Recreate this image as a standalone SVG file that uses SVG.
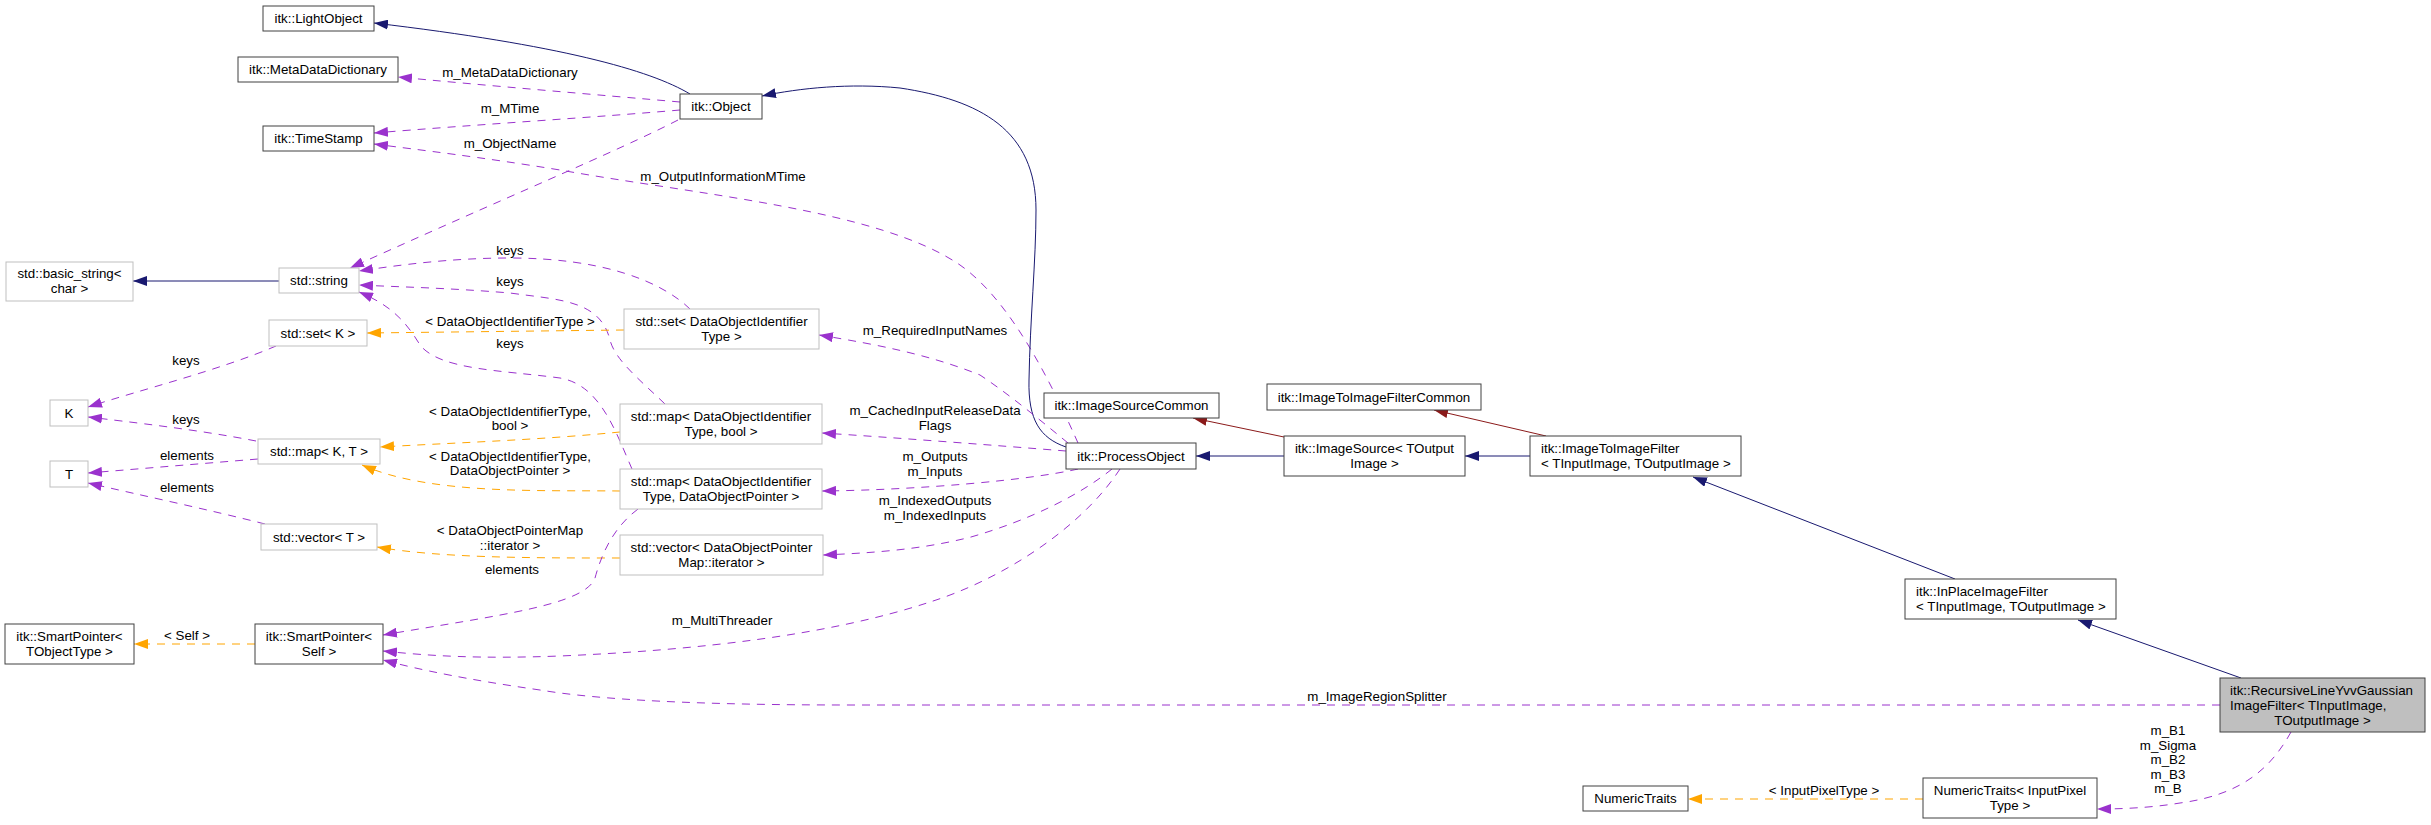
<svg xmlns="http://www.w3.org/2000/svg" width="2431" height="825" viewBox="0 0 2431 825">
<defs>
<style>
text{font-family:"Liberation Sans",Arial,Helvetica,sans-serif;font-size:13.33px;fill:#000}
.c{text-anchor:middle}
.n rect{fill:#fff;stroke:#404040;stroke-width:1}
.g rect{fill:#fff;stroke:#bfbfbf;stroke-width:1}
.f rect{fill:#bfbfbf;stroke:#404040;stroke-width:1}
#edges path{fill:none;stroke-width:1}
.inh{stroke:#191970;marker-end:url(#ab)}
.red{stroke:#8b1a1a;marker-end:url(#ar)}
.use{stroke:#9a32cd;stroke-dasharray:8,7;marker-end:url(#ap)}
.tpl{stroke:#ffa500;stroke-dasharray:8,7;marker-end:url(#ao)}
</style>
<marker id="ab" viewBox="0 0 14 10" refX="14" refY="5" markerWidth="14" markerHeight="10" markerUnits="userSpaceOnUse" orient="auto"><path d="M0,0L14,5L0,10z" fill="#191970"/></marker>
<marker id="ar" viewBox="0 0 14 10" refX="14" refY="5" markerWidth="14" markerHeight="10" markerUnits="userSpaceOnUse" orient="auto"><path d="M0,0L14,5L0,10z" fill="#8b1a1a"/></marker>
<marker id="ap" viewBox="0 0 14 10" refX="14" refY="5" markerWidth="14" markerHeight="10" markerUnits="userSpaceOnUse" orient="auto"><path d="M0,0L14,5L0,10z" fill="#9a32cd"/></marker>
<marker id="ao" viewBox="0 0 14 10" refX="14" refY="5" markerWidth="14" markerHeight="10" markerUnits="userSpaceOnUse" orient="auto"><path d="M0,0L14,5L0,10z" fill="#ffa500"/></marker>
</defs>
<rect x="0" y="0" width="2431" height="825" fill="#fff"/>

<g id="edges">
<path class="inh" d="M690,94 C650,70 560,45 374,23"/>
<path class="use" d="M680,102 C600,95 480,85 398,77"/>
<text class="c" x="510" y="76.5">m_MetaDataDictionary</text>
<path class="use" d="M680,110 C600,117 470,125 374,133"/>
<text class="c" x="510" y="112.5">m_MTime</text>
<path class="use" d="M678,120 C620,150 500,200 350,268"/>
<text class="c" x="510" y="147.5">m_ObjectName</text>
<path class="use" d="M1078,443 C1050,380 1010,300 960,265 C880,210 700,195 560,170 C480,157 420,150 374,144"/>
<text class="c" x="723" y="180.5">m_OutputInformationMTime</text>
<path class="inh" d="M279,281 L133,281"/>
<path class="use" d="M690,309 C660,280 600,258 510,258 C450,258 400,265 359,271"/>
<text class="c" x="510" y="255">keys</text>
<path class="use" d="M665,404 C640,380 615,360 610,340 C600,300 560,300 510,293 C450,288 400,287 359,285"/>
<text class="c" x="510" y="285.5">keys</text>
<path class="use" d="M632,469 C615,430 600,385 560,378 C500,370 440,370 420,345 C405,320 390,305 359,292"/>
<text class="c" x="510" y="347.5">keys</text>
<path class="tpl" d="M624,330 L367,333"/>
<text class="c" x="510" y="325.5">&lt; DataObjectIdentifierType &gt;</text>
<path class="use" d="M276,346 C220,370 140,390 88,407"/>
<text class="c" x="186" y="364.5">keys</text>
<path class="use" d="M256,441 C200,430 130,422 88,417"/>
<text class="c" x="186" y="423.5">keys</text>
<path class="use" d="M258,459 L88,473"/>
<text class="c" x="187" y="460">elements</text>
<path class="use" d="M265,524 C210,510 140,495 88,483"/>
<text class="c" x="187" y="492">elements</text>
<path class="tpl" d="M620,432 C540,440 450,443 380,447"/>
<text class="c" x="510" y="415.5">&lt; DataObjectIdentifierType,</text>
<text class="c" x="510" y="429.5">bool &gt;</text>
<path class="tpl" d="M620,491 C540,490 430,495 362,465"/>
<text class="c" x="510" y="461">&lt; DataObjectIdentifierType,</text>
<text class="c" x="510" y="475">DataObjectPointer &gt;</text>
<path class="tpl" d="M620,558 C530,558 440,558 377,547"/>
<text class="c" x="510" y="535">&lt; DataObjectPointerMap</text>
<text class="c" x="510" y="549.5">::iterator &gt;</text>
<path class="use" d="M638,509 C610,530 600,560 595,578 C585,605 500,615 383,635"/>
<text class="c" x="512" y="573.5">elements</text>
<path class="use" d="M1120,469 C1080,530 1000,580 930,602 C830,635 700,650 560,656 C480,659 430,656 383,651"/>
<text class="c" x="722" y="624.5">m_MultiThreader</text>
<path class="use" d="M2220,705 L850,705 C700,705 600,700 540,690 C470,680 420,670 383,660"/>
<text class="c" x="1377" y="701">m_ImageRegionSplitter</text>
<path class="inh" d="M1284,456 L1196,456"/>
<path class="inh" d="M1530,456 L1465,456"/>
<path class="red" d="M1284,437 L1193,418"/>
<path class="red" d="M1546,436 L1434,410"/>
<path class="inh" d="M1955,579 L1693,477"/>
<path class="inh" d="M2241,678 L2078,620"/>
<path class="inh" d="M1066,447 C1040,438 1028,420 1029,380 C1030,320 1036,260 1036,210 C1036,130 980,100 900,88 C850,83 800,88 762,96"/>
<path class="use" d="M1068,443 C1040,420 1010,395 980,375 C930,355 880,345 819,335"/>
<text class="c" x="935" y="335">m_RequiredInputNames</text>
<path class="use" d="M1066,451 C990,445 900,438 822,433"/>
<text class="c" x="935" y="415">m_CachedInputReleaseData</text>
<text class="c" x="935" y="429.5">Flags</text>
<path class="use" d="M1078,469 C1030,480 920,490 822,491"/>
<text class="c" x="935" y="461">m_Outputs</text>
<text class="c" x="935" y="476">m_Inputs</text>
<path class="use" d="M1112,469 C1080,495 1030,520 971,537 C920,550 870,553 823,555"/>
<text class="c" x="935" y="505">m_IndexedOutputs</text>
<text class="c" x="935" y="520">m_IndexedInputs</text>
<path class="use" d="M2291,732 C2270,770 2240,795 2180,803 C2150,808 2120,809 2097,809"/>
<text class="c" x="2168" y="735">m_B1</text>
<text class="c" x="2168" y="749.6">m_Sigma</text>
<text class="c" x="2168" y="764.2">m_B2</text>
<text class="c" x="2168" y="778.8">m_B3</text>
<text class="c" x="2168" y="793.4">m_B</text>
<path class="tpl" d="M1923,799 L1688,799"/>
<text class="c" x="1824" y="795">&lt; InputPixelType &gt;</text>
<path class="tpl" d="M255,644 L134,644"/>
<text class="c" x="187" y="639.5">&lt; Self &gt;</text>
</g>

<g id="n_lightobject" class="n"><rect x="263" y="6" width="111" height="25"/><text class="c" x="318.5" y="23">itk::LightObject</text></g>
<g id="n_metadatadictionary" class="n"><rect x="238" y="57" width="160" height="25"/><text class="c" x="318" y="74">itk::MetaDataDictionary</text></g>
<g id="n_timestamp" class="n"><rect x="263" y="126" width="111" height="25"/><text class="c" x="318.5" y="143">itk::TimeStamp</text></g>
<g id="n_object" class="n"><rect x="680" y="94" width="82" height="25"/><text class="c" x="721" y="111">itk::Object</text></g>
<g id="n_basic_string" class="g"><rect x="6" y="262" width="127" height="39"/><text class="c" x="69.5" y="278">std::basic_string&lt;</text><text class="c" x="69.5" y="293">char &gt;</text></g>
<g id="n_string" class="g"><rect x="279" y="268" width="80" height="25"/><text class="c" x="319" y="285">std::string</text></g>
<g id="n_setK" class="g"><rect x="269" y="320" width="98" height="26"/><text class="c" x="318" y="337.5">std::set&lt; K &gt;</text></g>
<g id="n_setDOI" class="g"><rect x="624" y="309" width="195" height="40"/><text class="c" x="721.5" y="326">std::set&lt; DataObjectIdentifier</text><text class="c" x="721.5" y="341">Type &gt;</text></g>
<g id="n_K" class="g"><rect x="50" y="400" width="38" height="26"/><text class="c" x="69" y="417.5">K</text></g>
<g id="n_mapKT" class="g"><rect x="258" y="439" width="122" height="25"/><text class="c" x="319" y="456">std::map&lt; K, T &gt;</text></g>
<g id="n_T" class="g"><rect x="50" y="461" width="38" height="26"/><text class="c" x="69" y="478.5">T</text></g>
<g id="n_mapBool" class="g"><rect x="620" y="404" width="202" height="40"/><text class="c" x="721" y="421">std::map&lt; DataObjectIdentifier</text><text class="c" x="721" y="436">Type, bool &gt;</text></g>
<g id="n_mapDOP" class="g"><rect x="620" y="469" width="202" height="40"/><text class="c" x="721" y="486">std::map&lt; DataObjectIdentifier</text><text class="c" x="721" y="501">Type, DataObjectPointer &gt;</text></g>
<g id="n_vecDOP" class="g"><rect x="620" y="535" width="203" height="40"/><text class="c" x="721.5" y="552">std::vector&lt; DataObjectPointer</text><text class="c" x="721.5" y="567">Map::iterator &gt;</text></g>
<g id="n_vecT" class="g"><rect x="261" y="524" width="116" height="26"/><text class="c" x="319" y="541.5">std::vector&lt; T &gt;</text></g>
<g id="n_spTObject" class="n"><rect x="5" y="624" width="129" height="40"/><text class="c" x="69.5" y="641">itk::SmartPointer&lt;</text><text class="c" x="69.5" y="656">TObjectType &gt;</text></g>
<g id="n_spSelf" class="n"><rect x="255" y="624" width="128" height="40"/><text class="c" x="319" y="641">itk::SmartPointer&lt;</text><text class="c" x="319" y="656">Self &gt;</text></g>
<g id="n_processobject" class="n"><rect x="1066" y="443" width="130" height="26"/><text class="c" x="1131" y="460.5">itk::ProcessObject</text></g>
<g id="n_imagesourcecommon" class="n"><rect x="1044" y="393" width="175" height="25"/><text class="c" x="1131.5" y="410">itk::ImageSourceCommon</text></g>
<g id="n_imagesource" class="n"><rect x="1284" y="436" width="181" height="40"/><text class="c" x="1374.5" y="453">itk::ImageSource&lt; TOutput</text><text class="c" x="1374.5" y="468">Image &gt;</text></g>
<g id="n_imagetoimagefiltercommon" class="n"><rect x="1267" y="384" width="214" height="26"/><text class="c" x="1374" y="401.5">itk::ImageToImageFilterCommon</text></g>
<g id="n_imagetoimagefilter" class="n"><rect x="1530" y="436" width="211" height="40"/><text x="1541" y="453">itk::ImageToImageFilter</text><text x="1541" y="468">&lt; TInputImage, TOutputImage &gt;</text></g>
<g id="n_inplaceimagefilter" class="n"><rect x="1905" y="579" width="211" height="40"/><text x="1916" y="596">itk::InPlaceImageFilter</text><text x="1916" y="611">&lt; TInputImage, TOutputImage &gt;</text></g>
<g id="n_recursive" class="f"><rect x="2220" y="678" width="205" height="54"/><text x="2230" y="694.5">itk::RecursiveLineYvvGaussian</text><text x="2230" y="709.5">ImageFilter&lt; TInputImage,</text><text class="c" x="2322.5" y="724.5">TOutputImage &gt;</text></g>
<g id="n_numerictraits" class="n"><rect x="1583" y="786" width="105" height="25"/><text class="c" x="1635.5" y="803">NumericTraits</text></g>
<g id="n_numerictraitsIPT" class="n"><rect x="1923" y="778" width="174" height="40"/><text class="c" x="2010" y="795">NumericTraits&lt; InputPixel</text><text class="c" x="2010" y="810">Type &gt;</text></g>
</svg>
